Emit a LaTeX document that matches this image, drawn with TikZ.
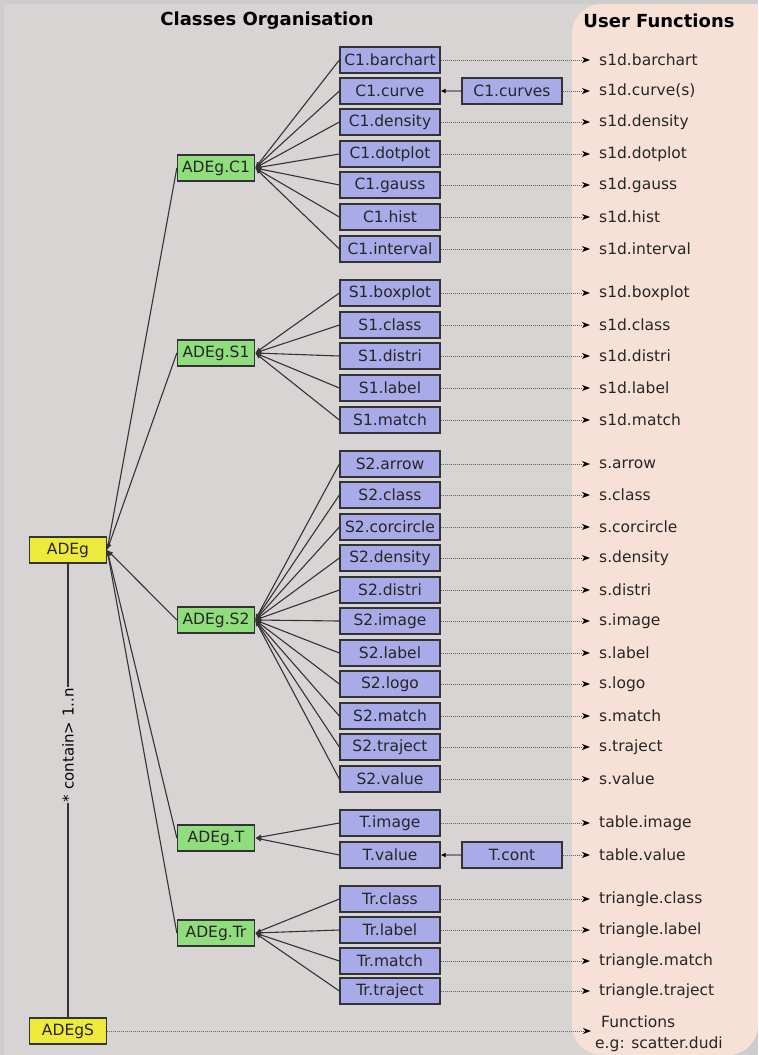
\documentclass[tikz,border=0pt]{standalone}
\usepackage{fontspec}
\setmainfont{DejaVu Sans}
\usetikzlibrary{arrows.meta}
\definecolor{bgframe}{HTML}{CDCDCD}
\definecolor{bgmain}{HTML}{D9D4D4}
\definecolor{bgfun}{HTML}{F7E1D7}
\definecolor{clblue}{HTML}{A9AAE8}
\definecolor{clgreen}{HTML}{8FDD7C}
\definecolor{clyellow}{HTML}{EEEA3C}
\tikzset{
  cls/.style={draw=black!80, line width=1.3pt, fill=clblue, minimum width=100pt,
    minimum height=26pt, inner sep=0pt, text=black!85},
  grp/.style={cls, fill=clgreen, minimum width=77pt},
  root/.style={cls, fill=clyellow, minimum width=77pt},
  fun/.style={anchor=west, inner sep=0pt, text=black!85},
  link/.style={draw=black!80, line width=1.1pt, {Latex[length=6pt,width=5pt]}-},
  feed/.style={draw=black!50, line width=1.4pt, {Latex[length=5pt,width=5pt,color=black]}-},
  call/.style={draw=black!60, dash pattern=on 1pt off 1pt, line width=1pt,
    shorten >=9pt, -{Stealth[length=8pt,width=6pt,inset=2.5pt,color=black]}},
  head/.style={font=\fontsize{18}{22}\selectfont\bfseries, inner sep=0pt}
}
\begin{document}
\begin{tikzpicture}[x=1pt,y=-1pt,font=\fontsize{15.5}{21}\selectfont]
  \useasboundingbox (0,0) rectangle (758,1055);
  % background panels
  \fill[bgframe] (0,0) rectangle (758,1055);
  \fill[bgmain] (4,4) rectangle (600,1055);
  \fill[bgfun, rounded corners=30pt] (572,4) rectangle (758,1055);
  \fill[bgfun] (700,4) rectangle (758,40);
  \node[head] (tcls) at (267,21) {Classes Organisation};
  \node[head] (tfun) at (659,21) {User Functions};

  % root classes
  \node[root] (adeg) at (68,550) {ADEg};
  \node[root] (adegs) at (68,1031) {ADEgS};

  % group classes
  \node[grp] (adegc1) at (216,168) {ADEg.C1};
  \node[grp] (adegs1) at (216,353) {ADEg.S1};
  \node[grp] (adegs2) at (216,620) {ADEg.S2};
  \node[grp] (adegt) at (216,838) {ADEg.T};
  \node[grp] (adegtr) at (216,933) {ADEg.Tr};

  % classes
  \foreach \nm/\yy/\txt in {c1barchart/60/C1.barchart, c1curve/91/C1.curve,
      c1density/122/C1.density, c1dotplot/154/C1.dotplot, c1gauss/185/C1.gauss,
      c1hist/217/C1.hist, c1interval/249/C1.interval,
      s1boxplot/293/S1.boxplot, s1class/325/S1.class, s1distri/356/S1.distri,
      s1label/388/S1.label, s1match/420/S1.match,
      s2arrow/464/S2.arrow, s2class/495/S2.class, s2corcircle/527/S2.corcircle,
      s2density/558/S2.density, s2distri/590/S2.distri, s2image/621/S2.image,
      s2label/653/S2.label, s2logo/684/S2.logo, s2match/716/S2.match,
      s2traject/747/S2.traject, s2value/779/S2.value,
      timage/823/T.image, tvalue/855/T.value,
      trclass/899/Tr.class, trlabel/930/Tr.label, trmatch/961/Tr.match,
      trtraject/991/Tr.traject}
    \node[cls] (\nm) at (390,\yy) {\txt};
  \node[cls] (c1curves) at (512,91) {C1.curves};
  \node[cls] (tcont) at (512,855) {T.cont};

  % user functions
  \foreach \nm/\yy/\txt in {c1barchart/60/s1d.barchart, c1curves/91/s1d.curve(s),
      c1density/122/s1d.density, c1dotplot/154/s1d.dotplot, c1gauss/185/s1d.gauss,
      c1hist/217/s1d.hist, c1interval/249/s1d.interval,
      s1boxplot/293/s1d.boxplot, s1class/325/s1d.class, s1distri/356/s1d.distri,
      s1label/388/s1d.label, s1match/420/s1d.match,
      s2arrow/464/s.arrow, s2class/495/s.class, s2corcircle/527/s.corcircle,
      s2density/558/s.density, s2distri/590/s.distri, s2image/621/s.image,
      s2label/653/s.label, s2logo/684/s.logo, s2match/716/s.match,
      s2traject/747/s.traject, s2value/779/s.value,
      timage/823/table.image, tcont/855/table.value,
      trclass/899/triangle.class, trlabel/930/triangle.label,
      trmatch/961/triangle.match, trtraject/991/triangle.traject}
    {\node[fun] (f\nm) at (599,\yy) {\txt};
     \draw[call] (\nm.east) -- (f\nm.west);}
  \node[fun, align=left] (fadegs) at (595,1034) {\hspace*{6pt}Functions\\e.g: scatter.dudi};
  \draw[call, shorten >=4pt] (adegs.east) -- (adegs.east -| fadegs.west);

  % inheritance
  \foreach \gr in {adegc1,adegs1,adegs2,adegt,adegtr}
    \draw[link] (adeg.east) -- (\gr.west);
  \foreach \nm in {c1barchart,c1curve,c1density,c1dotplot,c1gauss,c1hist,c1interval}
    \draw[link] (adegc1.east) -- (\nm.west);
  \foreach \nm in {s1boxplot,s1class,s1distri,s1label,s1match}
    \draw[link] (adegs1.east) -- (\nm.west);
  \foreach \nm in {s2arrow,s2class,s2corcircle,s2density,s2distri,s2image,
      s2label,s2logo,s2match,s2traject,s2value}
    \draw[link] (adegs2.east) -- (\nm.west);
  \foreach \nm in {timage,tvalue}
    \draw[link] (adegt.east) -- (\nm.west);
  \foreach \nm in {trclass,trlabel,trmatch,trtraject}
    \draw[link] (adegtr.east) -- (\nm.west);
  \draw[feed] (c1curve.east) -- (c1curves.west);
  \draw[feed] (tvalue.east) -- (tcont.west);

  % composition
  \draw[draw=black!80, line width=1.2pt] (adeg.south) -- node[pos=0.4, rotate=90,
    fill=bgmain, inner sep=1pt, font=\fontsize{15}{18}\selectfont] (lcontain)
    {* contain> 1..n} (adegs.north);
\end{tikzpicture}
\end{document}
